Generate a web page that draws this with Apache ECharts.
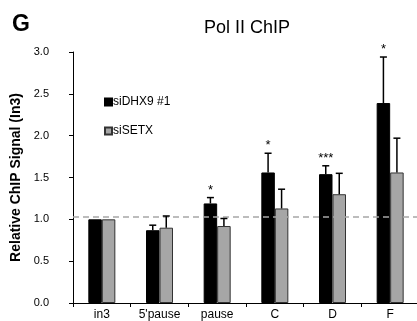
<!DOCTYPE html>
<html>
<head>
<meta charset="utf-8">
<script src="https://cdn.jsdelivr.net/npm/echarts@6/dist/echarts.min.js"></script>
<style>
  html, body { margin: 0; padding: 0; background: #fff; }
  #chart { width: 417px; height: 321px; }
</style>
</head>
<body>
<div id="chart"></div>
<script>
// 数据
const categories = ["in3", "5'pause", "pause", "C", "D", "F"];
const dhx9 = [1.0, 0.87, 1.19, 1.56, 1.54, 2.39];
const dhx9Err = [0, 0.06, 0.07, 0.23, 0.10, 0.55];
const setx = [1.0, 0.90, 0.92, 1.13, 1.30, 1.56];
const setxErr = [0, 0.14, 0.09, 0.23, 0.25, 0.41];
const stars = ["", "", "*", "*", "***", "*"];
const yTicks = [0, 0.5, 1.0, 1.5, 2.0, 2.5, 3.0];
const refLine = 1.03;

const barW = 13.5;
const font = "'Liberation Sans', Arial, sans-serif";

// 误差线 (只画上半部分)
function errorSeries(name, values, errs, side, withStars) {
  const data = values.map((v, i) => [i, v, errs[i], withStars ? stars[i] : ""]);
  return {
    name: name + " err",
    type: "custom",
    data: data,
    z: 5,
    renderItem: function (params, api) {
      const idx = api.value(0);
      const v = api.value(1);
      const e = api.value(2);
      const star = data[params.dataIndex][3];
      const base = api.coord([idx, v]);
      const top = api.coord([idx, v + e]);
      const x = base[0] + side * barW / 2;
      const children = [];
      if (e > 0) {
        children.push({
          type: "line",
          shape: { x1: x, y1: base[1], x2: x, y2: top[1] },
          style: { stroke: "#000", lineWidth: 1.5 }
        });
        children.push({
          type: "line",
          shape: { x1: x - 3.5, y1: top[1], x2: x + 3.5, y2: top[1] },
          style: { stroke: "#000", lineWidth: 1.5 }
        });
      }
      if (star) {
        children.push({
          type: "text",
          style: {
            x: x, y: top[1] - 1,
            text: star,
            fill: "#000",
            font: "13px " + font,
            align: "center",
            verticalAlign: "bottom"
          }
        });
      }
      return { type: "group", children: children };
    }
  };
}

const chart = echarts.init(document.getElementById("chart"));
chart.setOption({
  animation: false,
  title: [
    {
      text: "G", left: 7, top: 8,
      textStyle: { fontFamily: font, fontSize: 23, fontWeight: "bold", color: "#000" }
    },
    {
      text: "Pol II ChIP", left: 242, top: 14, textAlign: "center",
      textStyle: { fontFamily: font, fontSize: 18, fontWeight: "normal", color: "#000" }
    }
  ],
  legend: {
    data: ["siDHX9 #1", "siSETX"],
    orient: "vertical",
    left: 99, top: 91,
    icon: "rect",
    itemWidth: 7, itemHeight: 7,
    itemGap: 17,
    textStyle: { fontFamily: font, fontSize: 12, color: "#000", padding: [0, 0, 0, -4] }
  },
  grid: { left: 73, right: -2, top: 52, bottom: 18, outerBoundsMode: "none" },
  xAxis: {
    type: "category",
    data: categories,
    axisLine: { lineStyle: { color: "#000", width: 1 } },
    axisTick: { show: true, length: 4, lineStyle: { color: "#000" } },
    axisLabel: { color: "#000", fontFamily: font, fontSize: 12, margin: 6 }
  },
  yAxis: {
    type: "value",
    min: yTicks[0], max: yTicks[yTicks.length - 1], interval: 0.5,
    name: "Relative ChIP Signal (In3)",
    nameLocation: "middle",
    nameGap: 50,
    nameTextStyle: { fontFamily: font, fontSize: 14, fontWeight: "bold", color: "#000" },
    axisLine: { show: true, lineStyle: { color: "#000", width: 1 } },
    axisTick: { show: true, length: 4, lineStyle: { color: "#000" } },
    splitLine: { show: false },
    axisLabel: {
      color: "#000", fontFamily: font, fontSize: 11, margin: 24,
      formatter: v => v.toFixed(1)
    }
  },
  series: [
    {
      name: "siDHX9 #1",
      type: "bar",
      data: dhx9,
      barWidth: barW,
      barGap: "0%",
      itemStyle: { color: "#000", borderColor: "#000", borderWidth: 1 },
      markLine: {
        silent: true,
        symbol: "none",
        label: { show: false },
        lineStyle: { color: "#a6a6a6", type: [6, 4], width: 1.5 },
        data: [{ yAxis: refLine }]
      }
    },
    {
      name: "siSETX",
      type: "bar",
      data: setx,
      barWidth: barW,
      itemStyle: { color: "#a6a6a6", borderColor: "#333", borderWidth: 1 }
    },
    errorSeries("siDHX9 #1", dhx9, dhx9Err, -1, true),
    errorSeries("siSETX", setx, setxErr, 1, false)
  ]
});
</script>
</body>
</html>
